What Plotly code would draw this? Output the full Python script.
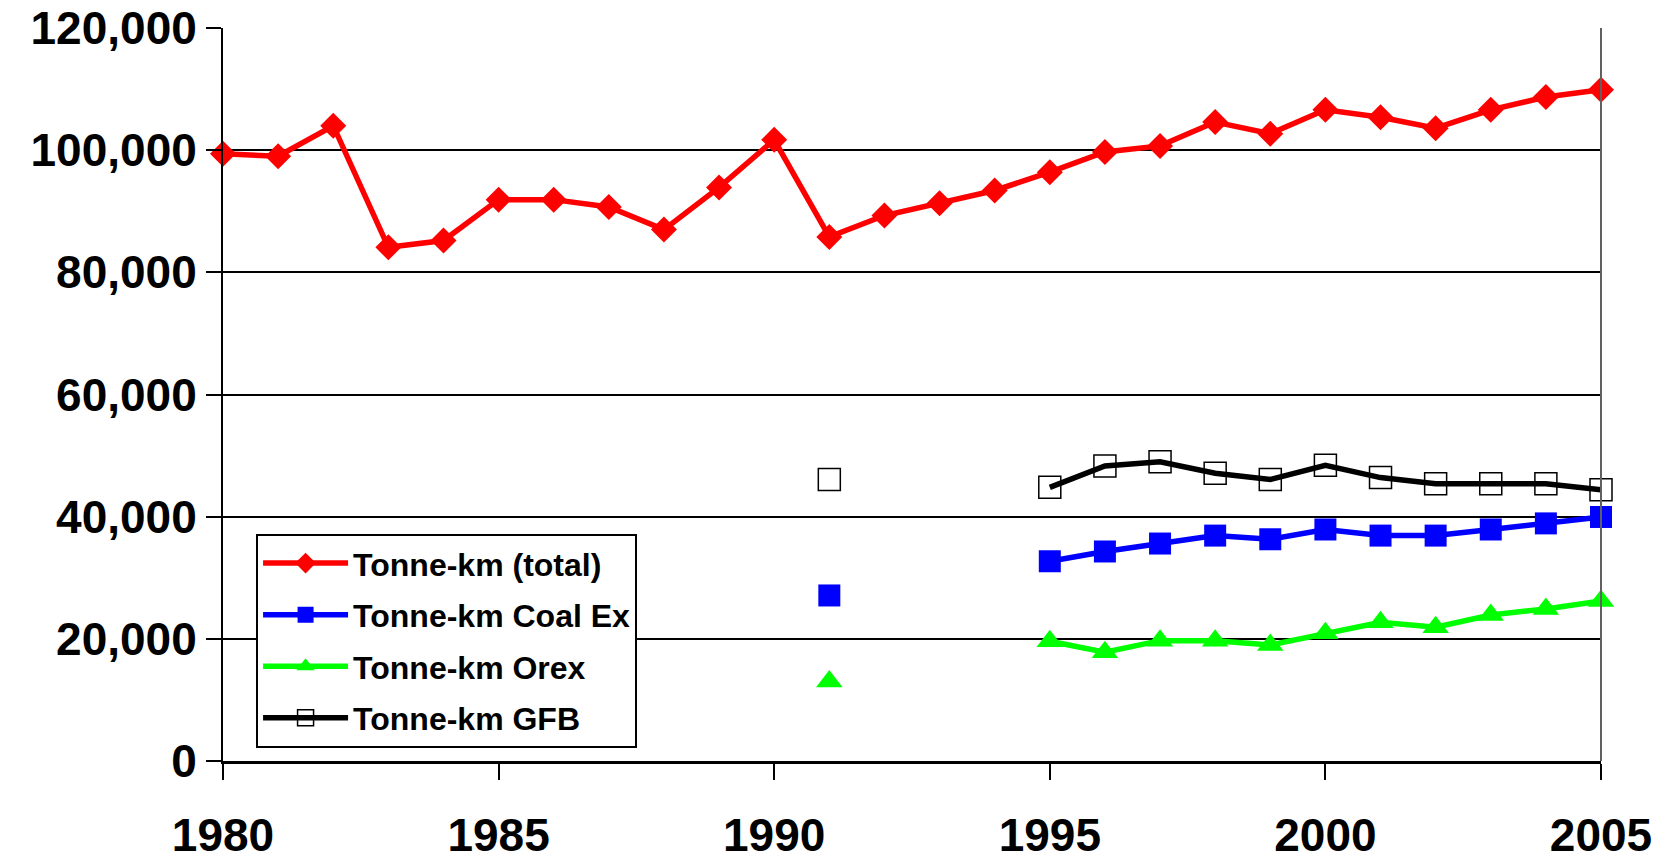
import plotly.graph_objects as go

years_total = list(range(1980, 2006))
total = [99400, 99000, 104000, 84100, 85200, 91900, 91900, 90700, 87000, 93900,
         101700, 85800, 89300, 91300, 93400, 96400, 99700, 100700, 104600, 102700,
         106600, 105400, 103600, 106600, 108700, 109900]

years_sub = [1991, 1992, 1993, 1994, 1995, 1996, 1997, 1998, 1999, 2000, 2001, 2002, 2003, 2004, 2005]
coal_ex = [27100, None, None, None, 32700, 34300, 35600, 36900, 36300, 37900, 36900, 36900, 37900, 38900, 39950]
orex = [13000, None, None, None, 19600, 17800, 19700, 19700, 19000, 20900, 22700, 21900, 23900, 24900, 26200]
gfb = [46100, None, None, None, 44800, 48300, 49000, 47100, 46100, 48400, 46400, 45400, 45400, 45400, 44400]

y_ticks = [0, 20000, 40000, 60000, 80000, 100000, 120000]
y_labels = ["0", "20,000", "40,000", "60,000", "80,000", "100,000", "120,000"]
x_ticks = [1980, 1985, 1990, 1995, 2000, 2005]

FONT = "Liberation Sans, Arial, sans-serif"

fig = go.Figure()
fig.add_trace(go.Scatter(x=years_total, y=total, name="Tonne-km (total)", mode="lines+markers",
                         legendgroup="a",
                         line=dict(color="#ff0000", width=5.5),
                         marker=dict(symbol="diamond", size=20, color="#ff0000"),
                         cliponaxis=False))
fig.add_trace(go.Scatter(x=years_sub, y=coal_ex, name="Tonne-km Coal Ex", mode="lines+markers",
                         legendgroup="b",
                         line=dict(color="#0000ff", width=5.5),
                         marker=dict(symbol="square", size=22, color="#0000ff"),
                         cliponaxis=False))
fig.add_trace(go.Scatter(x=years_sub, y=orex, name="Tonne-km Orex", mode="lines+markers",
                         legendgroup="c",
                         line=dict(color="#00ff00", width=5.5),
                         marker=dict(symbol="triangle-up", size=23, color="#00ff00"),
                         cliponaxis=False))
fig.add_trace(go.Scatter(x=years_sub, y=gfb, name="Tonne-km GFB", mode="lines+markers",
                         legendgroup="d",
                         line=dict(color="#000000", width=5.5),
                         marker=dict(symbol="square-open", size=22, color="#000000",
                                     line=dict(width=1.5, color="#000000")),
                         cliponaxis=False))

fig.update_layout(
    width=1667, height=860,
    margin=dict(l=223, r=66, t=28, b=99),
    paper_bgcolor="white", plot_bgcolor="white",
    font=dict(family=FONT, color="black"),
    showlegend=True,
    legend=dict(x=0.024, y=0.31, xanchor="left", yanchor="top",
                bgcolor="white", bordercolor="black", borderwidth=2,
                font=dict(family=FONT, size=32, color="black", weight="bold"),
                itemwidth=85, traceorder="grouped", tracegroupgap=7,
                entrywidth=285, entrywidthmode="pixels"),
    xaxis=dict(range=[1980, 2005], tickvals=x_ticks, ticktext=[str(v) for v in x_ticks],
               automargin=False,
               showgrid=False, zeroline=False, showline=True, linecolor="black", linewidth=3,
               ticks="outside", ticklen=16, tickwidth=1.5, tickcolor="black",
               ticklabelstandoff=16,
               tickfont=dict(family=FONT, size=46, color="black", weight="bold")),
    yaxis=dict(range=[0, 120000], tickvals=y_ticks, ticktext=y_labels,
               automargin=False,
               showgrid=True, gridcolor="black", gridwidth=2, zeroline=False,
               showline=True, linecolor="black", linewidth=2,
               ticks="outside", ticklen=15, tickwidth=2, tickcolor="black",
               tickfont=dict(family=FONT, size=46, color="black", weight="bold")),
    shapes=[dict(type="line", xref="paper", yref="paper", x0=1, x1=1, y0=0, y1=1,
                 line=dict(color="#606060", width=2))],
)

fig.write_html("out.html")
